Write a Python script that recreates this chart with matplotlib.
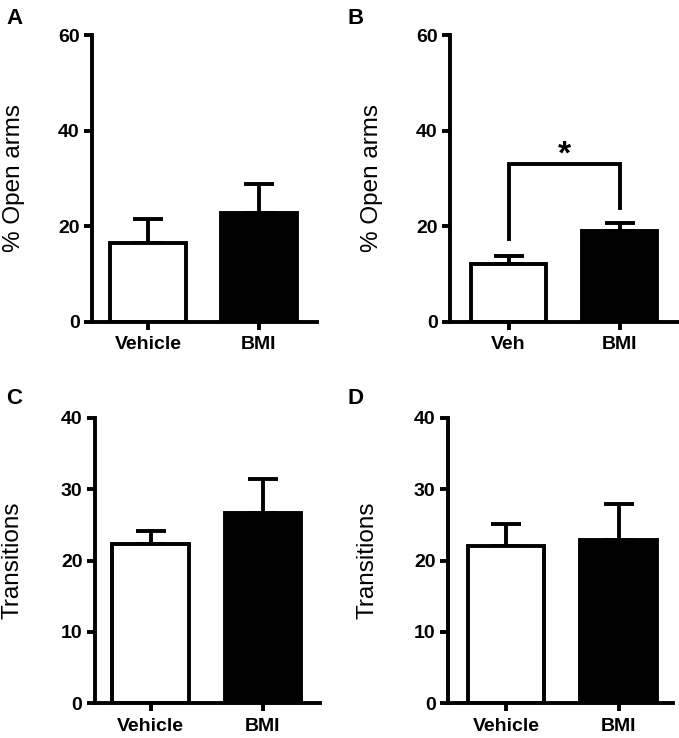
import numpy as np
import matplotlib.pyplot as plt

plt.rcParams['font.family'] = ['Liberation Sans', 'DejaVu Sans']

# data
cats_a = ['Vehicle', 'BMI']
open_a = [16.5, 22.7]
open_a_err = [4.9, 6.1]

cats_b = ['Veh', 'BMI']
open_b = [12.0, 19.0]
open_b_err = [1.8, 1.7]

cats_c = ['Vehicle', 'BMI']
trans_c = [22.3, 26.7]
trans_c_err = [1.8, 4.7]

cats_d = ['Vehicle', 'BMI']
trans_d = [22.1, 22.9]
trans_d_err = [3.0, 5.0]

W, H = 679, 738
fig = plt.figure(figsize=(W / 100, H / 100), dpi=100)

lw = 2.8


def panel(px_left, px_right, px_top, px_bottom, centers, cats, vals, errs,
          ymax, step, ylabel, letter, letter_xy, ylabel_x):
    ax = fig.add_axes([px_left / W, 1 - px_bottom / H,
                       (px_right - px_left) / W, (px_bottom - px_top) / H])
    spacing = centers[1] - centers[0]
    x0 = -(centers[0] - px_left) / spacing
    x1 = 1 + (px_right - centers[1]) / spacing
    x = np.arange(len(cats))
    ax.bar(x, vals, width=0.68, color=['white', 'black'], edgecolor='black',
           linewidth=lw, zorder=2)
    ax.errorbar(x, vals, yerr=[np.zeros(len(vals)), errs], fmt='none',
                ecolor='black', elinewidth=lw, capsize=10.5, capthick=lw, zorder=1)
    ax.set_xlim(x0, x1)
    ax.set_ylim(0, ymax)
    ax.set_yticks(np.arange(0, ymax + 1, step))
    ax.set_xticks(x)
    ax.set_xticklabels(cats)
    for s in ['top', 'right']:
        ax.spines[s].set_visible(False)
    for s in ['left', 'bottom']:
        ax.spines[s].set_linewidth(lw)
    ax.tick_params(width=lw, length=6, direction='out', labelsize=14, pad=3)
    ax.tick_params(axis='x', pad=4.5)
    for t in ax.get_xticklabels() + ax.get_yticklabels():
        t.set_fontweight('bold')
    ax.set_ylabel(ylabel, fontsize=17.5)
    ax.yaxis.set_label_coords((ylabel_x - px_left) / (px_right - px_left), 0.5)
    fig.text(letter_xy[0] / W, 1 - letter_xy[1] / H, letter, fontsize=16,
             fontweight='bold', ha='left', va='center')
    return ax


panel(92, 317, 35, 321.5, [148, 259], cats_a, open_a, open_a_err, 60, 20,
      '% Open arms', 'A', (6, 18), 25)
axb = panel(450, 678, 35, 321.5, [508.5, 619.5], cats_b, open_b, open_b_err, 60, 20,
            '% Open arms', 'B', (348, 18), 383)
panel(95, 320, 417.7, 703.3, [150.5, 263], cats_c, trans_c, trans_c_err, 40, 10,
      'Transitions', 'C', (6, 398), 24)
panel(448, 673, 417.7, 703.3, [506, 618.5], cats_d, trans_d, trans_d_err, 40, 10,
      'Transitions', 'D', (348, 398), 378)

# significance bracket in panel B
br_top = 33.0
br_left = 17.2
br_right = 23.7
axb.plot([0, 0, 1, 1], [br_left, br_top, br_top, br_right], color='black',
         linewidth=lw, solid_joinstyle='miter', clip_on=False)
axb.text(0.5, 33.0, '*', ha='center', va='baseline', fontsize=24,
         fontweight='bold')

fig.savefig('out.png', dpi=100)
